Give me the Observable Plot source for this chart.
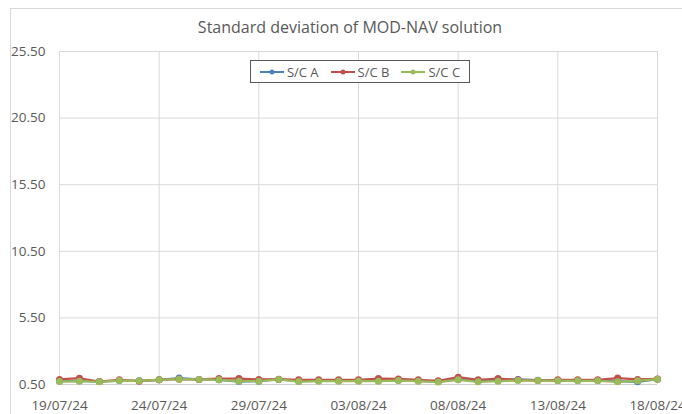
<!DOCTYPE html>
<html>
<head>
<meta charset="utf-8">
<script src="https://cdn.jsdelivr.net/npm/d3@7"></script>
<script src="https://cdn.jsdelivr.net/npm/@observablehq/plot@0.6"></script>
<style>
  html, body { margin: 0; padding: 0; background: #fff; overflow: hidden; }
  #wrap { position: relative; width: 682px; height: 414px; overflow: hidden; font-family: "Open Sans", "Noto Sans", sans-serif; }
  #frame { position: absolute; left: 10px; top: 8px; width: 700px; height: 420px; border-left: 1px solid #d9d9d9; border-top: 1px solid #d9d9d9; pointer-events: none; }
  #title { position: absolute; left: 0; width: 700px; top: 16px; text-align: center; font-size: 16px; color: #595959; }
  #legend { position: absolute; left: 250px; top: 60px; width: 218px; height: 21px; border: 1px solid #595959; background: #fff; display: flex; align-items: center; justify-content: center; gap: 12px; font-size: 13px; color: #595959; }
  #legend .item { display: flex; align-items: center; gap: 3px; }
  #chart { position: absolute; left: 0; top: 0; width: 682px; height: 414px; }
  #chart svg { max-width: none; }
</style>
</head>
<body>
<div id="wrap">
  <div id="frame"></div>
  <div id="chart"></div>
  <div id="title"></div>
  <div id="legend"></div>
</div>
<script>
const titleText = "Standard deviation of MOD-NAV solution";
const dates = ["19/07/24","20/07/24","21/07/24","22/07/24","23/07/24","24/07/24","25/07/24","26/07/24","27/07/24","28/07/24",
  "29/07/24","30/07/24","31/07/24","01/08/24","02/08/24","03/08/24","04/08/24","05/08/24","06/08/24","07/08/24",
  "08/08/24","09/08/24","10/08/24","11/08/24","12/08/24","13/08/24","14/08/24","15/08/24","16/08/24","17/08/24","18/08/24"];
const xTickLabels = ["19/07/24","24/07/24","29/07/24","03/08/24","08/08/24","13/08/24","18/08/24"];
const yTicks = [0.5, 5.5, 10.5, 15.5, 20.5, 25.5];
const seriesNames = ["S/C A", "S/C B", "S/C C"];
const seriesColors = ["#4F81BD", "#C0504D", "#9BBB59"];
const scA = [0.75,0.78,0.72,0.80,0.78,0.85,0.98,0.88,0.85,0.72,0.75,0.88,0.75,0.78,0.78,0.78,0.78,0.82,0.78,0.72,0.88,0.75,0.80,0.88,0.82,0.80,0.80,0.80,0.75,0.70,0.90];
const scB = [0.88,0.97,0.72,0.85,0.75,0.85,0.90,0.88,0.95,0.95,0.88,0.90,0.85,0.85,0.85,0.85,0.95,0.92,0.85,0.78,1.05,0.85,0.95,0.85,0.80,0.85,0.85,0.85,0.98,0.88,0.92];
const scC = [0.72,0.75,0.70,0.80,0.78,0.85,0.90,0.88,0.85,0.75,0.75,0.88,0.72,0.75,0.75,0.75,0.75,0.80,0.75,0.68,0.85,0.70,0.75,0.80,0.80,0.78,0.78,0.78,0.70,0.78,0.90];
const seriesValues = [scA, scB, scC];

const rows = [];
seriesNames.forEach((s, i) => seriesValues[i].forEach((v, j) => rows.push({series: s, date: dates[j], value: v})));

const chart = Plot.plot({
  width: 682,
  height: 414,
  marginLeft: 59,
  marginRight: 25,
  marginTop: 51,
  marginBottom: 30,
  style: {fontFamily: "'Open Sans', 'Noto Sans', sans-serif", fontSize: "13.5px", color: "#595959", background: "transparent", overflow: "visible"},
  x: {type: "point", domain: dates, padding: 0, round: false, ticks: xTickLabels, tickSize: 0, tickPadding: 16, label: null},
  y: {domain: [0.5, 25.5], ticks: yTicks, tickFormat: d3.format(".2f"), tickSize: 0, tickPadding: 14, label: null},
  color: {domain: seriesNames, range: seriesColors},
  marks: [
    Plot.gridY(yTicks, {stroke: "#d9d9d9", strokeOpacity: 1, strokeWidth: 1}),
    Plot.gridX(xTickLabels, {stroke: "#d9d9d9", strokeOpacity: 1, strokeWidth: 1}),
    Plot.ruleY([0.5], {stroke: "#d0d0d0", strokeWidth: 1}),
    Plot.axisY({ticks: yTicks, tickFormat: d3.format(".2f"), tickSize: 0, tickPadding: 14, fill: "#595959", fontSize: 13.5}),
    Plot.axisX({ticks: xTickLabels, tickSize: 0, tickPadding: 16, fill: "#595959", fontSize: 13.5}),
    Plot.line(rows, {x: "date", y: "value", z: "series", stroke: "series", strokeWidth: 2.25}),
    Plot.dot(rows, {x: "date", y: "value", fill: "series", r: 3.5, stroke: null})
  ]
});
document.getElementById("chart").appendChild(chart);
document.getElementById("title").textContent = titleText;

const legend = document.getElementById("legend");
seriesNames.forEach((s, i) => {
  const item = document.createElement("div");
  item.className = "item";
  item.innerHTML = `<svg width="24" height="10"><line x1="0" y1="5" x2="24" y2="5" stroke="${seriesColors[i]}" stroke-width="2"/><circle cx="12" cy="5" r="2.5" fill="${seriesColors[i]}"/></svg><span>${s}</span>`;
  legend.appendChild(item);
});
</script>
</body>
</html>
